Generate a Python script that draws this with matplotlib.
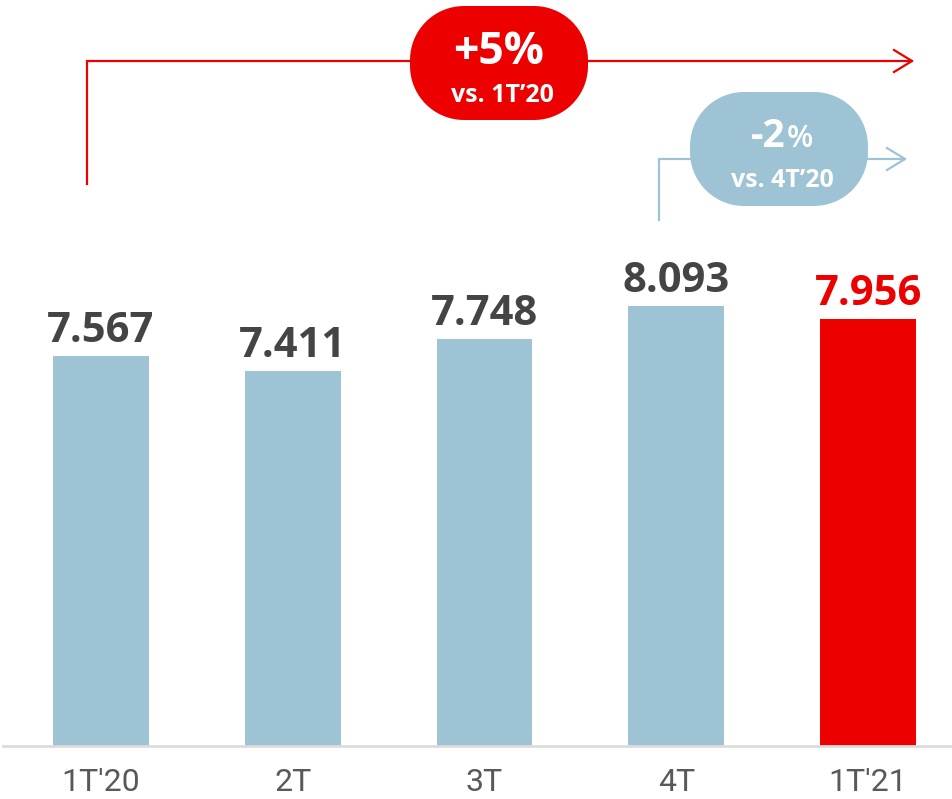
import numpy as np
import matplotlib
matplotlib.use("Agg")
import matplotlib.pyplot as plt
from matplotlib.patches import Polygon

# data
quarters = ["1T'20", "2T", "3T", "4T", "1T'21"]
values = [7.567, 7.411, 7.748, 8.093, 7.956]

RED = "#EC0000"
BLUE = "#9DC3D4"
DARK = "#444444"

plt.rcParams['font.family'] = ['Open Sans', 'DejaVu Sans']

fig = plt.figure(figsize=(9.53, 7.99), dpi=100)
W, H = 953, 799

#############################################
# bars (y axis does not start at zero)
base = 3.46
ppu = 95.0  # pixels per unit
ax = fig.add_axes([0, 53 / H, 1, 746 / H])
x = np.arange(len(values))
colors = [BLUE] * (len(values) - 1) + [RED]
ax.bar(x, values, width=0.5, color=colors, zorder=2)
ax.set_xlim(-101 / 192, 4 + 85 / 192)
ax.set_ylim(base, base + 746 / ppu)

for xi, v, c in zip(x, values, colors):
    tc = RED if c == RED else DARK
    ax.annotate(f"{v:.3f}", (xi, v), xytext=(0, 10), textcoords="offset points",
                ha="center", va="baseline", fontsize=30, fontweight="bold", color=tc)

ax.axhline(base, xmin=3 / W, xmax=1, color="#dcdcdc", lw=2, clip_on=False, zorder=3)
ax.set_xticks(x, quarters)
ax.tick_params(axis="x", length=0, pad=16, labelsize=23, labelcolor="#595959")
for lbl in ax.get_xticklabels():
    lbl.set_fontfamily(["Roboto", "DejaVu Sans"])
ax.set_yticks([])
for s in ax.spines.values():
    s.set_visible(False)

#############################################
# growth annotations, drawn in pixel space
ov = fig.add_axes([0, 0, 1, 1], zorder=5)
ov.set_xlim(0, W)
ov.set_ylim(H, 0)
ov.axis("off")


def arrow_line(pts, tip, color):
    xs, ys = zip(*pts)
    ov.plot(xs, ys, color=color, lw=1.6, solid_joinstyle="miter")
    tx, ty = tip
    ov.plot([tx - 18, tx, tx - 18], [ty - 11, ty, ty + 11], color=color, lw=1.6)


def bubble(x0, y0, w, h, color):
    # pill shape: rounded rectangle with big corner radius
    r = 54
    pts = []
    corners = [(x0 + w - r, y0 + r, -90), (x0 + w - r, y0 + h - r, 0),
               (x0 + r, y0 + h - r, 90), (x0 + r, y0 + r, 180)]
    for cx, cy, a0 in corners:
        t = np.radians(np.linspace(a0, a0 + 90, 20))
        pts += list(zip(cx + r * np.cos(t), cy + r * np.sin(t)))
    ov.add_patch(Polygon(pts, closed=True, fc=color, ec="none", zorder=4))


# +5% vs 1T'20
arrow_line([(87, 184), (87, 61), (912, 61)], (912, 61), RED)
bubble(410, 6, 178, 114, RED)
ov.text(499, 64, "+5%", ha="center", va="baseline", fontsize=32,
        fontweight="bold", color="white", zorder=6)
ov.text(502, 102, "vs. 1T\u201920", ha="center", va="baseline", fontsize=18,
        fontweight="bold", color="white", zorder=6)

# -2% vs 4T'20
arrow_line([(659, 220), (659, 159), (905, 159)], (905, 159), BLUE)
bubble(690, 92, 178, 114, BLUE)
ov.text(786, 147, "-2", ha="right", va="baseline", fontsize=28,
        fontweight="bold", color="white", zorder=6)
ov.text(787, 147, "%", ha="left", va="baseline", fontsize=22,
        fontweight="semibold", color="white", zorder=6)
ov.text(782, 187, "vs. 4T\u201920", ha="center", va="baseline", fontsize=18,
        fontweight="bold", color="white", zorder=6)

fig.savefig("out.png", dpi=100)
